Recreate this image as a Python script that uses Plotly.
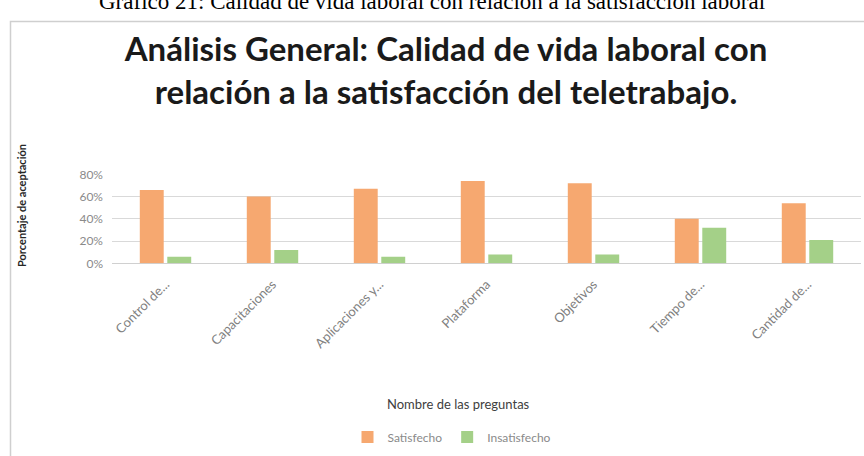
import plotly.graph_objects as go

# Survey questions (labels shortened as in the report) and acceptance shares
preguntas = ["Control de...", "Capacitaciones", "Aplicaciones y...", "Plataforma",
             "Objetivos", "Tiempo de...", "Cantidad de..."]
satisfecho = [0.66, 0.60, 0.67, 0.74, 0.72, 0.40, 0.54]
insatisfecho = [0.06, 0.12, 0.06, 0.08, 0.08, 0.32, 0.21]
y_ticks = [0, 0.2, 0.4, 0.6, 0.8]

W, H = 864, 456
ORANGE = "#F6A870"
GREEN = "#A4D088"
FONT = "Lato"


def px_x(x):
    return x / W


def px_y(y):
    return 1 - y / H


fig = go.Figure()
fig.add_trace(go.Bar(name="Satisfecho", x=preguntas, y=satisfecho,
                     marker=dict(color=ORANGE, line=dict(width=0))))
fig.add_trace(go.Bar(name="Insatisfecho", x=preguntas, y=insatisfecho,
                     marker=dict(color=GREEN, line=dict(width=0))))

fig.update_layout(
    width=W, height=H,
    margin=dict(l=0, r=0, t=0, b=0, autoexpand=False),
    paper_bgcolor="white", plot_bgcolor="white",
    barmode="group", bargap=0.486, bargroupgap=0.13,
    font=dict(family=FONT, color="#7f7f7f", size=12),
    title=dict(
        text="Análisis General: Calidad de vida laboral con<br>relación a la satisfacción del teletrabajo.",
        x=px_x(446), xanchor="center", y=px_y(61), yanchor="middle",
        font=dict(family=FONT, size=33, color="#1a1a1a", weight="bold"),
    ),
    xaxis=dict(
        domain=[px_x(112), px_x(861)],
        tickangle=-45, showgrid=False, showline=False, ticks="",
        ticklabelstandoff=10,
        tickfont=dict(size=13, color="#808080"),
    ),
    yaxis=dict(
        domain=[px_y(263.3), px_y(174.3)],
        range=[0, 0.8], tickvals=y_ticks, tickformat=".0%",
        showgrid=True, gridcolor="#d9d9d9", gridwidth=1,
        zeroline=True, zerolinecolor="#d0d0d0", zerolinewidth=1,
        showline=False, ticks="", ticklabelstandoff=8,
        tickfont=dict(size=12, color="#8a8a8a"),
    ),
    legend=dict(
        orientation="h", x=px_x(452), xanchor="center", y=px_y(437), yanchor="middle",
        font=dict(size=12, color="#8a8a8a"), itemwidth=30,
        bgcolor="rgba(0,0,0,0)",
    ),
    showlegend=True,
)

# Report caption above the chart frame
fig.add_annotation(
    text="Gráfico 21: Calidad de vida laboral con relación a la satisfacción laboral",
    xref="paper", yref="paper", x=px_x(432), y=px_y(16), xanchor="center", yanchor="bottom",
    showarrow=False, font=dict(family="Liberation Serif", size=23, color="#000000"),
)

# Axis titles
fig.add_annotation(
    text="Porcentaje de aceptación", textangle=-90,
    xref="paper", yref="paper", x=px_x(22), y=px_y(206), xanchor="center", yanchor="middle",
    showarrow=False, font=dict(family=FONT, size=11, color="#262626", weight="bold"),
)
fig.add_annotation(
    text="Nombre de las preguntas",
    xref="paper", yref="paper", x=px_x(458), y=px_y(404), xanchor="center", yanchor="middle",
    showarrow=False, font=dict(family=FONT, size=13, color="#404040"),
)

# Chart frame
fig.add_shape(type="rect", xref="paper", yref="paper",
              x0=px_x(10.5), x1=1.05, y0=-0.05, y1=px_y(21.5),
              line=dict(color="#cfcfcf", width=1.5), fillcolor="rgba(0,0,0,0)", layer="below")

fig.write_html("out.html")
